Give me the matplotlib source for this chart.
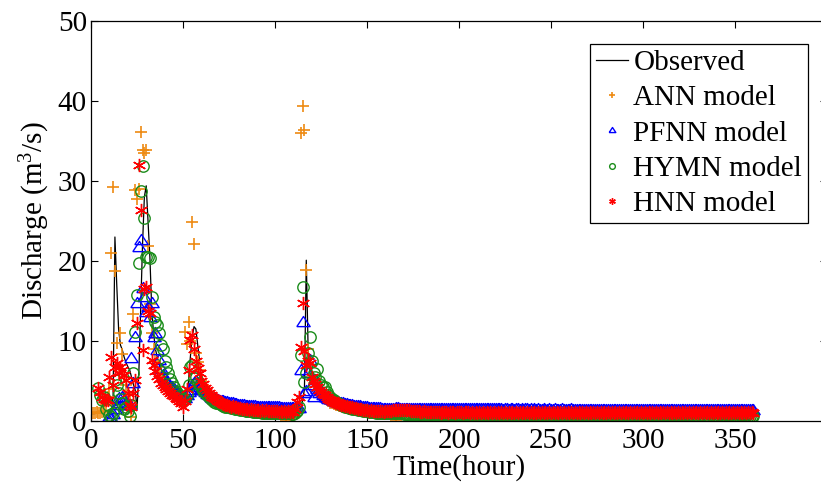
import numpy as np
import matplotlib
matplotlib.use("Agg")
import matplotlib.pyplot as plt

nan = float("nan")

# ---------------- data (hourly, t = 0 .. 360) ----------------
hours = list(range(0, 361))

observed = [
    0.9, 0.9, 0.9, 1.0, 1.0, 1.0, 1.1, 1.1, 1.2, 1.2,
    1.3, 1.3, 3.0, 23.0, 17.0, 11.5, 9.5, 8.9, 8.0, 7.3,
    6.8, 6.4, 5.5, 4.6, 3.9, 1.5, 6.0, 14.0, 22.0, 28.0,
    29.4, 25.0, 20.5, 14.0, 11.0, 9.0, 8.0, 7.2, 6.5, 5.9,
    5.4, 5.0, 4.6, 4.2, 3.9, 3.6, 3.3, 3.1, 2.9, 2.7,
    2.5, 2.4, 3.0, 5.0, 8.0, 10.5, 11.8, 11.5, 9.5, 7.5,
    5.5, 4.7, 4.2, 3.8, 3.4, 3.1, 2.9, 2.7, 2.5, 2.4,
    2.3, 2.2, 2.1, 2.0, 1.95, 1.9, 1.85, 1.8, 1.75, 1.7,
    1.66, 1.62, 1.58, 1.55, 1.52, 1.5, 1.48, 1.46, 1.44, 1.42,
    1.4, 1.39, 1.38, 1.37, 1.36, 1.35, 1.34, 1.33, 1.32, 1.31,
    1.3, 1.3, 1.29, 1.28, 1.28, 1.27, 1.26, 1.26, 1.25, 1.25,
    1.24, 1.24, 1.25, 1.3, 1.5, 2.5, 4.0, 20.1, 9.0, 6.0,
    5.0, 4.4, 4.0, 3.6, 3.3, 3.0, 2.8, 2.6, 2.45, 2.3,
    2.2, 2.1, 2.0, 1.95, 1.9, 1.85, 1.8, 1.75, 1.7, 1.66,
    1.62, 1.58, 1.55, 1.52, 1.5, 1.48, 1.46, 1.44, 1.42, 1.4,
    1.38, 1.36, 1.34, 1.32, 1.3, 1.29, 1.28, 1.27, 1.26, 1.25,
    1.25, 1.24, 1.24, 1.25, 1.27, 1.28, 1.28, 1.27, 1.26, 1.25,
    1.24, 1.23, 1.23, 1.22, 1.22, 1.21, 1.21, 1.2, 1.2, 1.2,
    1.19, 1.19, 1.18, 1.18, 1.18, 1.17, 1.17, 1.17, 1.16, 1.16,
    1.16, 1.15, 1.15, 1.15, 1.15, 1.14, 1.14, 1.14, 1.14, 1.13,
    1.13, 1.13, 1.13, 1.12, 1.12, 1.12, 1.12, 1.12, 1.12, 1.11,
    1.11, 1.11, 1.11, 1.11, 1.11, 1.1, 1.1, 1.1, 1.1, 1.1,
    1.1, 1.1, 1.1, 1.09, 1.09, 1.09, 1.09, 1.09, 1.09, 1.09,
    1.09, 1.08, 1.08, 1.08, 1.08, 1.08, 1.08, 1.08, 1.08, 1.07,
    1.07, 1.07, 1.07, 1.07, 1.07, 1.07, 1.07, 1.07, 1.06, 1.06,
    1.06, 1.06, 1.06, 1.06, 1.06, 1.06, 1.06, 1.06, 1.05, 1.05,
    1.05, 1.05, 1.05, 1.05, 1.05, 1.05, 1.05, 1.05, 1.05, 1.04,
    1.04, 1.04, 1.04, 1.04, 1.04, 1.04, 1.04, 1.04, 1.04, 1.04,
    1.04, 1.03, 1.03, 1.03, 1.03, 1.03, 1.03, 1.03, 1.03, 1.03,
    1.03, 1.03, 1.03, 1.03, 1.02, 1.02, 1.02, 1.02, 1.02, 1.02,
    1.02, 1.02, 1.02, 1.02, 1.02, 1.02, 1.02, 1.01, 1.01, 1.01,
    1.01, 1.01, 1.01, 1.01, 1.01, 1.01, 1.01, 1.01, 1.01, 1.01,
    1.0, 1.0, 1.0, 1.0, 1.0, 1.0, 1.0, 1.0, 1.0, 1.0,
    1.0, 1.0, 1.0, 1.0, 1.0, 0.99, 0.99, 0.99, 0.99, 0.99,
    0.99, 0.99, 0.99, 0.99, 0.99, 0.99, 0.99, 0.99, 0.99, 0.98,
    0.98, 0.98, 0.98, 0.98, 0.98, 0.98, 0.98, 0.98, 0.98, 0.98,
    0.98,
]

ann_model = [
    1.0, 1.0, 1.0, 1.1, 1.0, 1.0, 1.1, 1.3, 2.0, 3.0,
    4.0, 21.0, 29.3, 18.8, 9.7, 6.5, 11.0, 8.4, 5.5, 4.5,
    3.5, 2.5, 0.5, 13.4, 28.9, 27.7, 29.0, 36.1, 33.9, 33.5,
    33.9, 21.9, 14.6, 11.0, 9.0, 7.5, 6.8, 6.0, 5.5, 5.0,
    4.6, 4.3, 4.0, 3.7, 3.5, 3.3, 3.1, 2.9, 2.7, 2.5,
    2.4, 11.1, 9.6, 12.4, 10.0, 24.9, 22.1, 8.5, 7.4, 6.4,
    5.0, 4.5, 4.0, 3.6, 3.3, 3.0, 2.8, 2.6, 2.5, 2.3,
    2.2, 2.1, 2.0, 1.9, 1.85, 1.8, 1.75, 1.7, 1.65, 1.6,
    1.55, 1.5, 1.48, 1.45, 1.42, 1.4, 1.38, 1.36, 1.34, 1.32,
    1.3, 1.3, 1.28, 1.27, 1.26, 1.25, 1.24, 1.23, 1.22, 1.21,
    1.2, 1.2, 1.19, 1.18, 1.18, 1.17, 0.0, 1.16, 1.15, 1.15,
    1.14, 1.14, 1.2, 1.3, 36.0, 39.4, 36.4, 18.9, 9.0, 7.0,
    5.5, 4.8, 4.2, 3.8, 3.5, 3.2, 3.0, 2.8, 2.6, 2.45,
    2.3, 2.2, 2.1, 2.0, 1.95, 1.9, 1.85, 1.8, 1.75, 1.7,
    1.65, 1.6, 1.56, 1.52, 1.48, 1.45, 1.42, 1.4, 1.38, 1.36,
    1.34, 1.32, 1.3, 1.28, 1.26, 1.25, 1.24, 1.23, 1.22, 1.21,
    1.2, 1.2, 1.22, 1.25, 1.28, 1.3, 0.0, 1.3, 1.28, 1.26,
    1.24, 1.22, 1.2, 1.19, 1.18, 1.17, 1.16, 1.15, 1.15, 1.14,
    1.14, 1.13, 1.13, 1.12, 1.12, 1.11, 1.11, 1.11, 1.1, 1.1,
    1.1, 1.09, 1.09, 1.09, 1.08, 1.08, 1.08, 1.08, 1.07, 1.07,
    1.07, 1.07, 1.06, 1.06, 1.06, 1.06, 1.06, 1.05, 1.05, 1.05,
    1.05, 1.05, 1.05, 1.04, 1.04, 1.04, 1.04, 1.04, 1.04, 1.04,
    1.03, 1.03, 1.03, 1.03, 1.03, 1.03, 1.03, 1.03, 1.02, 1.02,
    1.02, 1.02, 1.02, 1.02, 1.02, 1.02, 1.02, 1.01, 1.01, 1.01,
    1.01, 1.01, 1.01, 1.01, 1.01, 1.01, 1.01, 1.01, 1.0, 1.0,
    1.0, 1.0, 1.0, 1.0, 1.0, 1.0, 1.0, 1.0, 1.0, 1.0,
    1.0, 1.0, 1.0, 1.0, 1.0, 1.0, 1.0, 1.0, 1.0, 1.0,
    1.0, 1.0, 1.0, 0.99, 0.99, 0.99, 0.99, 0.99, 0.99, 0.99,
    0.99, 0.99, 0.99, 0.99, 0.99, 0.99, 0.99, 0.99, 0.99, 0.99,
    0.99, 0.99, 0.98, 0.98, 0.98, 0.98, 0.98, 0.98, 0.98, 0.98,
    0.98, 0.98, 0.98, 0.98, 0.98, 0.98, 0.98, 0.98, 0.98, 0.98,
    0.98, 0.98, 0.98, 0.98, 0.97, 0.97, 0.97, 0.97, 0.97, 0.97,
    0.97, 0.97, 0.97, 0.97, 0.97, 0.97, 0.97, 0.97, 0.97, 0.97,
    0.97, 0.97, 0.97, 0.97, 0.97, 0.97, 0.97, 0.97, 0.97, 0.97,
    0.96, 0.96, 0.96, 0.96, 0.96, 0.96, 0.96, 0.96, 0.96, 0.96,
    0.96, 0.96, 0.96, 0.96, 0.96, 0.96, 0.96, 0.96, 0.96, 0.96,
    0.96,
]

pfnn_model = [
    nan, nan, nan, nan, nan, nan, nan, nan, nan, 0.3,
    0.5, 0.4, 0.9, 1.5, 2.0, 2.9, 2.2, 3.0, 2.6, 2.2,
    2.0, 2.0, 7.9, 4.7, 10.5, 14.7, 21.8, 22.6, 16.6, 15.5,
    13.6, 14.3, 13.0, 14.7, 10.5, 11.0, 8.9, 7.6, 6.5, 5.7,
    5.2, 4.9, 4.6, 4.4, 4.3, 4.0, 3.8, 3.6, 3.3, 3.1,
    3.0, 2.9, 3.2, 3.6, 3.9, 4.5, 4.7, 5.0, 4.6, 4.2,
    3.9, 3.9, 3.6, 3.4, 3.2, 3.0, 2.9, 2.8, 2.7, 2.6,
    2.55, 2.5, 2.45, 2.4, 2.35, 2.3, 2.25, 2.2, 2.15, 2.1,
    2.05, 2.0, 1.98, 1.95, 1.92, 1.9, 1.88, 1.86, 1.84, 1.82,
    1.8, 1.79, 1.78, 1.77, 1.76, 1.75, 1.74, 1.73, 1.72, 1.71,
    1.7, 1.7, 1.69, 1.68, 1.68, 1.67, 1.66, 1.66, 1.65, 1.65,
    1.64, 1.64, 1.6, 1.6, 6.4, 12.4, 3.5, 3.7, 6.0, 7.6,
    4.5, 3.0, 5.1, 4.0, 3.5, 3.7, 3.2, 3.0, 2.9, 2.8,
    2.7, 2.6, 2.5, 2.4, 2.35, 2.3, 2.25, 2.2, 2.15, 2.1,
    2.05, 2.0, 1.96, 1.92, 1.88, 1.85, 1.82, 1.79, 1.76, 1.73,
    1.7, 1.68, 1.66, 1.64, 1.62, 1.6, 1.58, 1.57, 1.56, 1.55,
    1.54, 1.53, 1.53, 1.52, 1.54, 1.56, 1.57, 1.57, 1.56, 1.55,
    1.54, 1.53, 1.52, 1.52, 1.51, 1.51, 1.5, 1.5, 1.5, 1.49,
    1.49, 1.48, 1.5, 1.48, 1.47, 1.49, 1.48, 1.47, 1.48, 1.47,
    1.47, 1.49, 1.47, 1.46, 1.48, 1.47, 1.46, 1.47, 1.46, 1.48,
    1.46, 1.47, 1.45, 1.46, 1.47, 1.45, 1.46, 1.45, 1.47, 1.45,
    1.46, 1.45, 1.44, 1.46, 1.45, 1.44, 1.46, 1.45, 1.44, 1.45,
    1.44, 1.46, 1.44, 1.45, 1.43, 1.45, 1.44, 1.43, 1.45, 1.44,
    1.43, 1.44, 1.45, 1.43, 1.44, 1.43, 1.45, 1.44, 1.43, 1.44,
    1.43, 1.44, 1.42, 1.44, 1.43, 1.42, 1.44, 1.43, 1.42, 1.44,
    1.43, 1.42, 1.44, 1.43, 1.42, 1.43, 1.44, 1.42, 1.43, 1.42,
    1.43, 1.44, 1.42, 1.43, 1.42, 1.41, 1.43, 1.42, 1.43, 1.41,
    1.42, 1.43, 1.41, 1.42, 1.43, 1.41, 1.42, 1.41, 1.43, 1.42,
    1.41, 1.42, 1.43, 1.41, 1.42, 1.41, 1.42, 1.43, 1.41, 1.42,
    1.41, 1.42, 1.41, 1.43, 1.42, 1.41, 1.42, 1.41, 1.42, 1.41,
    1.42, 1.41, 1.42, 1.4, 1.42, 1.41, 1.4, 1.42, 1.41, 1.4,
    1.41, 1.42, 1.4, 1.41, 1.4, 1.42, 1.41, 1.4, 1.41, 1.4,
    1.41, 1.4, 1.42, 1.41, 1.4, 1.41, 1.4, 1.41, 1.4, 1.42,
    1.4, 1.41, 1.4, 1.41, 1.4, 1.39, 1.41, 1.4, 1.41, 1.4,
    1.39, 1.41, 1.4, 1.39, 1.4, 1.41, 1.4, 1.39, 1.4, 1.41,
    1.4, 1.39, 1.4, 1.41, 1.39, 1.4, 1.39, 1.4, 1.41, 1.39,
    1.4,
]

hymn_model = [
    nan, nan, nan, nan, 4.1, 3.3, 2.6, 3.0, 1.5, 2.0,
    0.8, 0.5, 1.0, 5.1, 4.5, 3.5, 2.8, 2.2, 1.5, 1.8,
    1.3, 0.6, 2.0, 6.0, 11.1, 15.8, 19.7, 28.7, 31.9, 25.4,
    20.5, 20.5, 20.4, 15.5, 13.0, 12.4, 12.0, 11.0, 9.5, 9.0,
    7.5, 6.8, 6.0, 5.3, 4.7, 4.2, 3.8, 3.5, 3.2, 3.0,
    2.8, 2.7, 3.2, 4.5, 6.8, 7.0, 5.4, 5.5, 4.8, 4.5,
    4.2, 3.8, 3.5, 3.2, 3.0, 2.8, 2.6, 2.4, 2.3, 2.2,
    2.1, 2.0, 1.9, 1.8, 1.75, 1.7, 1.65, 1.6, 1.55, 1.5,
    1.45, 1.4, 1.36, 1.32, 1.28, 1.25, 1.22, 1.19, 1.16, 1.14,
    1.12, 1.1, 1.08, 1.06, 1.05, 1.04, 1.03, 1.02, 1.01, 1.0,
    0.99, 0.98, 0.97, 0.96, 0.96, 0.95, 0.95, 0.94, 0.94, 0.93,
    0.93, 0.95, 1.2, 1.8, 8.3, 16.8, 4.9, 6.0, 8.5, 10.5,
    7.5, 6.0, 5.5, 6.5, 5.0, 4.5, 4.2, 4.3, 3.6, 3.3,
    3.0, 2.8, 2.6, 2.4, 2.2, 2.1, 2.0, 1.9, 1.8, 1.7,
    1.65, 1.6, 1.55, 1.5, 1.45, 1.4, 1.36, 1.32, 1.28, 1.24,
    1.2, 1.17, 1.14, 1.11, 1.08, 1.05, 1.02, 1.0, 0.98, 0.96,
    0.95, 0.94, 0.94, 0.95, 0.96, 0.97, 0.97, 0.96, 0.95, 0.94,
    0.93, 0.92, 0.91, 0.9, 0.9, 0.89, 0.88, 0.88, 0.87, 0.87,
    0.86, 0.86, 0.85, 0.85, 0.84, 0.84, 0.84, 0.83, 0.83, 0.83,
    0.82, 0.82, 0.82, 0.81, 0.81, 0.81, 0.8, 0.8, 0.8, 0.8,
    0.79, 0.8, 0.79, 0.79, 0.78, 0.79, 0.78, 0.78, 0.79, 0.78,
    0.78, 0.77, 0.78, 0.77, 0.78, 0.77, 0.77, 0.78, 0.77, 0.77,
    0.77, 0.76, 0.77, 0.77, 0.76, 0.77, 0.76, 0.77, 0.76, 0.76,
    0.76, 0.77, 0.76, 0.76, 0.75, 0.76, 0.76, 0.75, 0.76, 0.75,
    0.75, 0.76, 0.75, 0.75, 0.76, 0.75, 0.75, 0.74, 0.75, 0.75,
    0.74, 0.75, 0.75, 0.74, 0.75, 0.74, 0.74, 0.75, 0.74, 0.74,
    0.74, 0.73, 0.74, 0.74, 0.73, 0.74, 0.73, 0.74, 0.73, 0.73,
    0.73, 0.74, 0.73, 0.73, 0.72, 0.73, 0.73, 0.72, 0.73, 0.72,
    0.72, 0.73, 0.72, 0.72, 0.73, 0.72, 0.72, 0.71, 0.72, 0.72,
    0.71, 0.72, 0.72, 0.71, 0.72, 0.71, 0.71, 0.72, 0.71, 0.71,
    0.71, 0.7, 0.71, 0.71, 0.7, 0.71, 0.7, 0.71, 0.7, 0.7,
    0.7, 0.71, 0.7, 0.7, 0.69, 0.7, 0.7, 0.69, 0.7, 0.69,
    0.69, 0.7, 0.69, 0.69, 0.7, 0.69, 0.69, 0.68, 0.69, 0.69,
    0.68, 0.69, 0.69, 0.68, 0.69, 0.68, 0.68, 0.69, 0.68, 0.68,
    0.68, 0.67, 0.68, 0.68, 0.67, 0.68, 0.67, 0.68, 0.67, 0.67,
    0.67, 0.68, 0.67, 0.67, 0.66, 0.67, 0.67, 0.66, 0.67, 0.66,
    0.66,
]

hnn_model = [
    nan, nan, nan, nan, 4.1, 3.6, 3.0, 2.8, 2.6, 2.6,
    5.5, 8.0, 4.5, 6.8, 7.2, 6.0, 6.8, 6.4, 5.8, 5.1,
    3.5, 2.0, 1.8, 3.5, 5.1, 12.2, 32.0, 26.4, 8.9, 16.5,
    16.8, 13.7, 13.5, 7.6, 7.0, 6.2, 5.6, 5.2, 4.8, 4.5,
    4.2, 4.0, 3.7, 3.5, 3.3, 3.1, 2.9, 2.7, 2.5, 2.3,
    1.8, 2.5, 4.0, 6.4, 10.1, 10.8, 9.0, 7.5, 6.6, 6.0,
    5.0, 4.6, 4.1, 3.9, 3.5, 3.3, 3.0, 2.9, 2.7, 2.5,
    2.4, 2.3, 2.1, 2.05, 1.95, 1.9, 1.8, 1.85, 1.7, 1.7,
    1.6, 1.65, 1.5, 1.55, 1.45, 1.5, 1.4, 1.45, 1.38, 1.42,
    1.35, 1.4, 1.3, 1.36, 1.28, 1.34, 1.25, 1.3, 1.22, 1.3,
    1.2, 1.28, 1.18, 1.25, 1.15, 1.24, 1.12, 1.2, 1.15, 1.22,
    1.15, 1.5, 2.4, 3.0, 9.3, 14.7, 8.8, 7.0, 7.5, 7.2,
    5.5, 5.0, 4.6, 4.2, 3.9, 3.6, 3.4, 3.2, 3.0, 2.8,
    2.65, 2.5, 2.4, 2.3, 2.2, 2.1, 2.0, 1.95, 1.9, 1.85,
    1.8, 1.75, 1.7, 1.62, 1.6, 1.52, 1.5, 1.45, 1.42, 1.38,
    1.35, 1.3, 1.32, 1.26, 1.28, 1.22, 1.25, 1.2, 1.23, 1.18,
    1.2, 1.22, 1.25, 1.3, 1.35, 1.38, 1.4, 1.36, 1.38, 1.4,
    1.36, 1.38, 1.34, 1.35, 1.3, 1.28, 1.25, 1.22, 1.2, 1.18,
    1.15, 1.2, 1.12, 1.18, 1.1, 1.16, 1.08, 1.15, 1.1, 1.14,
    1.06, 1.13, 1.08, 1.15, 1.05, 1.12, 1.09, 1.14, 1.04, 1.12,
    1.08, 1.13, 1.03, 1.1, 1.07, 1.14, 1.02, 1.1, 1.06, 1.12,
    1.04, 1.11, 1.06, 1.13, 1.02, 1.1, 1.05, 1.12, 1.03, 1.09,
    1.06, 1.12, 1.02, 1.1, 1.05, 1.13, 1.03, 1.09, 1.06, 1.11,
    1.02, 1.1, 1.05, 1.12, 1.03, 1.09, 1.06, 1.11, 1.02, 1.1,
    1.05, 1.12, 1.03, 1.09, 1.06, 1.11, 1.02, 1.1, 1.05, 1.12,
    1.03, 1.09, 1.06, 1.11, 1.02, 1.1, 1.05, 1.12, 1.03, 1.09,
    1.06, 1.11, 1.02, 1.1, 1.05, 1.12, 1.03, 1.09, 1.06, 1.11,
    1.02, 1.1, 1.05, 1.12, 1.03, 1.09, 1.06, 1.11, 1.02, 1.1,
    1.05, 1.12, 1.03, 1.09, 1.06, 1.11, 1.02, 1.1, 1.05, 1.12,
    1.03, 1.09, 1.06, 1.11, 1.02, 1.1, 1.05, 1.12, 1.03, 1.09,
    1.06, 1.11, 1.02, 1.1, 1.05, 1.12, 1.03, 1.09, 1.06, 1.11,
    1.02, 1.1, 1.05, 1.12, 1.03, 1.09, 1.06, 1.11, 1.02, 1.1,
    1.05, 1.12, 1.03, 1.09, 1.06, 1.11, 1.02, 1.1, 1.05, 1.12,
    1.03, 1.09, 1.06, 1.11, 1.02, 1.1, 1.05, 1.12, 1.03, 1.09,
    1.06, 1.11, 1.02, 1.1, 1.05, 1.12, 1.03, 1.09, 1.06, 1.11,
    1.02, 1.1, 1.05, 1.12, 1.03, 1.09, 1.06, 1.11, 1.02, 1.1,
    1.05,
]

x_ticks = [0, 50, 100, 150, 200, 250, 300, 350]
y_ticks = [0, 10, 20, 30, 40, 50]
legend_labels = ["Observed", "ANN model", "PFNN model", "HYMN model", "HNN model"]

# ---------------- style ----------------
plt.rcParams["font.family"] = ["Liberation Serif", "DejaVu Serif"]
plt.rcParams["mathtext.fontset"] = "custom"
plt.rcParams["mathtext.rm"] = "Liberation Serif"
plt.rcParams["mathtext.it"] = "Liberation Serif:italic"

FS = 21
W, H = 821, 487
fig = plt.figure(figsize=(W / 100, H / 100), dpi=100)
ax_left, ax_right, ax_top, ax_bottom = 91, 827, 21, 421
ax = fig.add_axes([ax_left / W, (H - ax_bottom) / H,
                   (ax_right - ax_left) / W, (ax_bottom - ax_top) / H])

tri = [(-1, -0.62), (1, -0.62), (0, 0.9), (-1, -0.62)]
ms = 8.2
mew = 1.0

ax.plot(hours, observed, color="black", lw=0.9, label=legend_labels[0])
ax.plot(hours, ann_model, ls="none", marker="+", ms=ms + 0.5, mew=1.2,
        color="#EE8A12", label=legend_labels[1])
ax.plot(hours, pfnn_model, ls="none", marker=tri, ms=ms + 1.4, mew=mew,
        mfc="none", mec="#0000FF", label=legend_labels[2])
ax.plot(hours, hymn_model, ls="none", marker="o", ms=ms, mew=mew,
        mfc="none", mec="#1A8C1A", label=legend_labels[3])
ax.plot(hours, hnn_model, ls="none", marker=(6, 2, 0), ms=ms + 1.3, mew=mew,
        color="#FF0000", label=legend_labels[4])

ax.set_xlim(0, 400)
ax.set_ylim(0, 50)
ax.set_xticks(x_ticks)
ax.set_yticks(y_ticks)
ax.tick_params(direction="in", length=5, width=0.8, top=True, right=True,
               labelsize=FS, pad=5)
ax.tick_params(axis="y", pad=3)
for s in ax.spines.values():
    s.set_linewidth(0.9)

ax.set_xlabel("Time(hour)", fontsize=FS)
ax.set_ylabel(r"Discharge (m$^{3}$/s)", fontsize=FS)
ax.xaxis.set_label_coords(0.5, -0.082)
ax.yaxis.set_label_coords(-0.053, 0.5)

leg = ax.legend(loc="upper right", bbox_to_anchor=(808 / W, (H - 44) / H),
                bbox_transform=fig.transFigure, fontsize=FS, frameon=True,
                fancybox=False, shadow=False, framealpha=1, edgecolor="black",
                borderpad=0.2, labelspacing=0.3, handlelength=1.1,
                handletextpad=0.2, borderaxespad=0, markerscale=0.5)
leg.get_frame().set_linewidth(0.9)

fig.savefig("out.png", dpi=100)
